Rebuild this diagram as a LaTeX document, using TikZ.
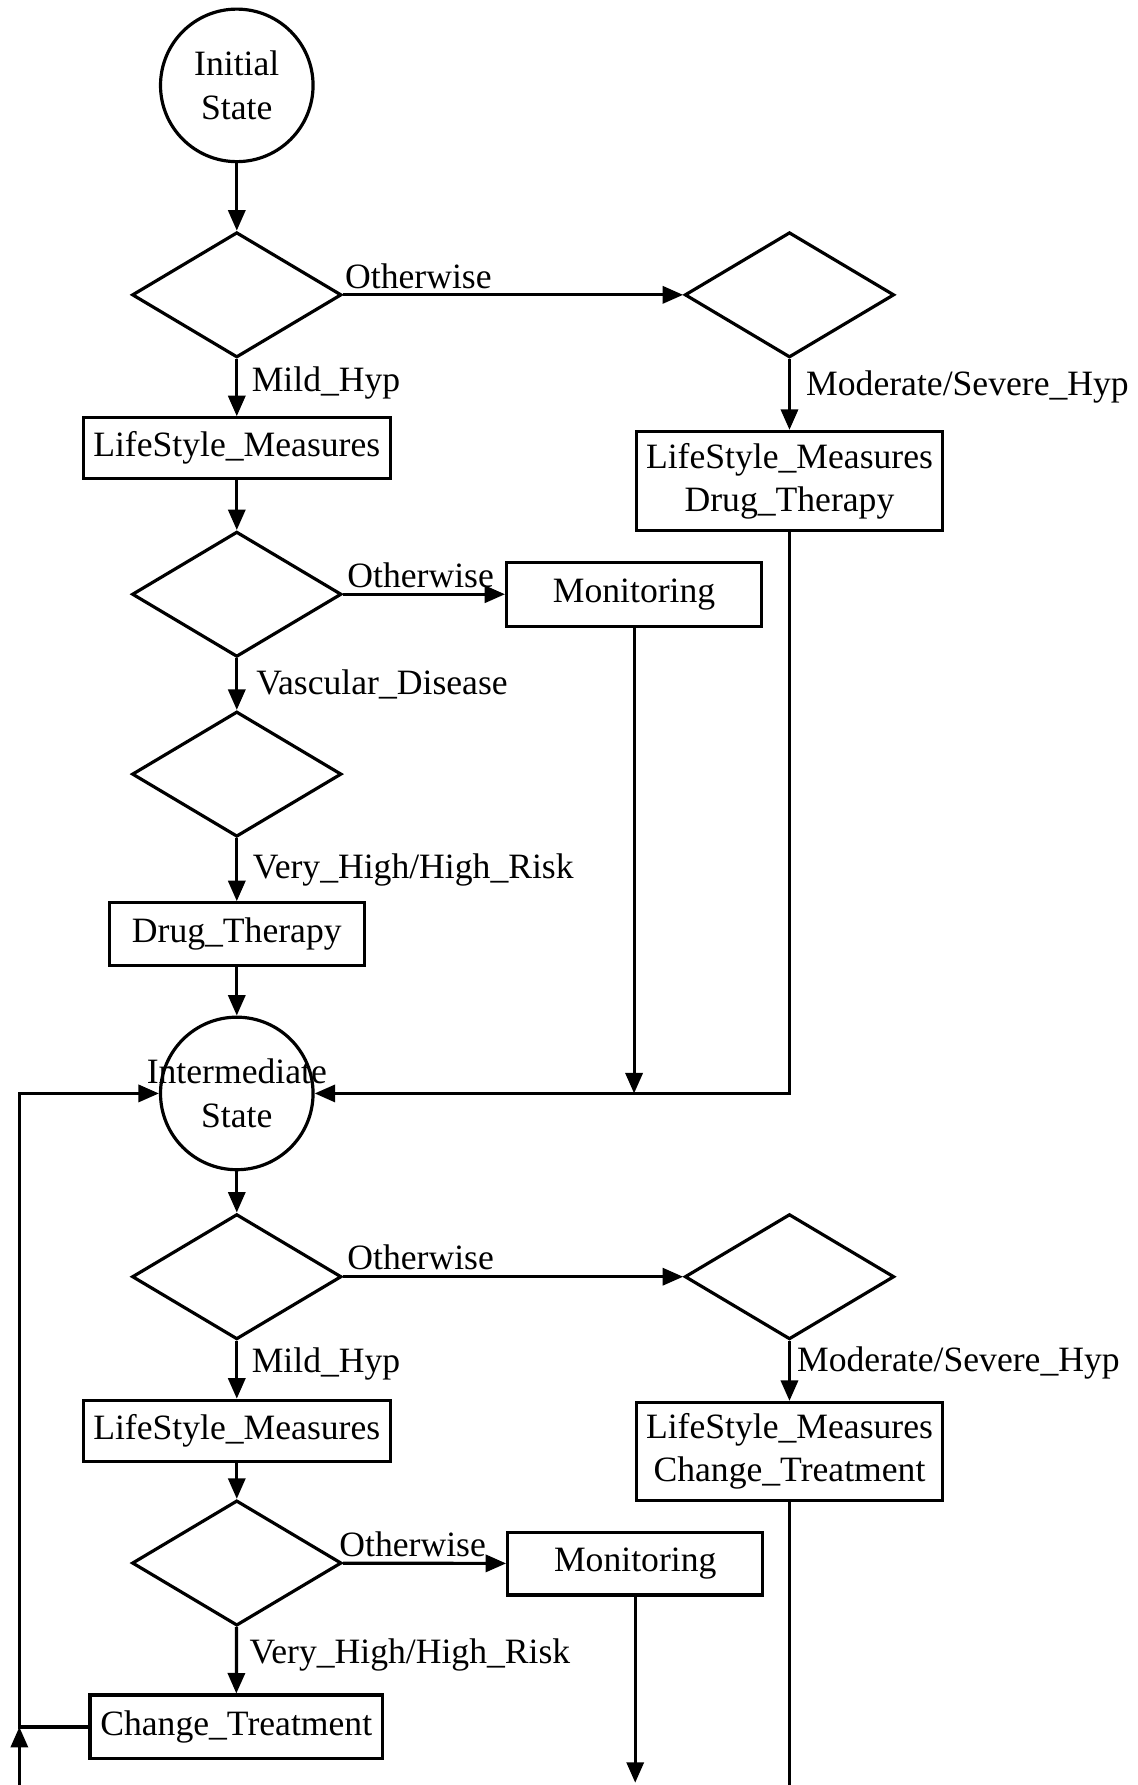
\documentclass[tikz,border=0pt]{standalone}
\usepackage{fontspec}
\setmainfont{Liberation Serif}
\usetikzlibrary{arrows.meta,shapes.geometric}
\begin{document}
\begin{tikzpicture}[x=1pt,y=-1pt,
  font=\fontsize{31.3}{38}\selectfont,
  every node/.style={inner sep=0pt},
  flow/.style={line width=2.8pt},
  arr/.style={flow,-{Triangle[length=18pt,width=15pt]}},
  state/.style={circle,draw,line width=2.8pt,minimum size=134pt},
  decision/.style={diamond,draw,line width=2.8pt,minimum width=184pt,minimum height=110pt},
  stepbox/.style={rectangle,draw,line width=2.8pt,align=center},
  lbl/.style={anchor=base west}
]
\useasboundingbox (0,0) rectangle (999,1568);

% ---- first treatment stage ----
\node[state] (s0) at (208,75) {};
\node[align=center] at (s0) {Initial\\State};
\node[decision] (d1) at (208,259) {};
\node[decision] (d2) at (693.5,259) {};
\node[stepbox,minimum width=270pt,minimum height=53pt] (ls1) at (208,393.5) {LifeStyle\_Measures};
\node[stepbox,minimum width=269pt,minimum height=87pt] (lsdt) at (693.5,422.5) {LifeStyle\_Measures\\Drug\_Therapy};
\node[decision] (d3) at (208,522) {};
\node[stepbox,minimum width=224pt,minimum height=56pt] (mon1) at (557,522) {Monitoring};
\node[decision] (d4) at (208,680) {};
\node[stepbox,minimum width=224pt,minimum height=55pt] (dt) at (208,820.5) {Drug\_Therapy};

% ---- intermediate state ----
\node[state] (s1) at (208,960.5) {};
\node[align=center] at (s1) {Intermediate\\State};

% ---- follow-up stage ----
\node[decision] (d5) at (208,1121.5) {};
\node[decision] (d6) at (693.5,1121.5) {};
\node[stepbox,minimum width=270pt,minimum height=54pt] (ls2) at (208,1257) {LifeStyle\_Measures};
\node[stepbox,minimum width=269pt,minimum height=86pt] (lsct) at (693.5,1275) {LifeStyle\_Measures\\Change\_Treatment};
\node[decision] (d7) at (208,1373) {};
\node[stepbox,minimum width=224pt,minimum height=55pt] (mon2) at (558,1373.5) {Monitoring};
\node[stepbox,minimum width=257pt,minimum height=56pt] (ct) at (207.5,1517) {Change\_Treatment};

% ---- connectors, first stage ----
\draw[arr] (s0) -- (d1);
\draw[arr] (d1) -- (d2);
\draw[arr] (d2) -- (lsdt);
\draw[arr] (d1) -- (ls1);
\draw[arr] (ls1) -- (d3);
\draw[arr] (d3) -- (mon1);
\draw[arr] (d3) -- (d4);
\draw[arr] (d4) -- (dt);
\draw[arr] (dt) -- (s1);
\coordinate (j1) at (693.5,960.5);
\draw[arr] (lsdt.south) -- (j1) -- (s1.east);
\draw[arr] (mon1.south) -- (mon1.south |- s1.east);

% ---- feedback loop on the left ----
\coordinate (j2) at (17,1517);
\coordinate (j3) at (17,960.5);
\draw[arr] (ct.west) -- (j2) -- (j3) -- (s1.west);
\coordinate (b1) at (17,1568);
\draw[arr] (b1) -- (j2);

% ---- connectors, follow-up stage ----
\draw[arr] (s1) -- (d5);
\draw[arr] (d5) -- (d6);
\draw[arr] (d6) -- (lsct);
\draw[arr] (d5) -- (ls2);
\draw[arr] (ls2) -- (d7);
\draw[arr] (d7) -- (mon2);
\draw[arr] (d7) -- (ct);
\coordinate (b2) at (558,1566);
\draw[arr] (mon2.south) -- (b2);
\coordinate (b3) at (693.5,1568);
\draw[flow] (lsct.south) -- (b3);

% ---- edge labels ----
\node[lbl] at (303,253) {Otherwise};
\node[lbl] at (221,344) {Mild\_Hyp};
\node[lbl] at (708,347) {Moderate/Severe\_Hyp};
\node[lbl] at (305,516) {Otherwise};
\node[lbl] at (225,610) {Vascular\_Disease};
\node[lbl] at (222,772) {Very\_High/High\_Risk};
\node[lbl] at (305,1115) {Otherwise};
\node[lbl] at (700,1205) {Moderate/Severe\_Hyp};
\node[lbl] at (221,1206) {Mild\_Hyp};
\node[lbl] at (298,1367) {Otherwise};
\node[lbl] at (219,1461) {Very\_High/High\_Risk};
\end{tikzpicture}
\end{document}
